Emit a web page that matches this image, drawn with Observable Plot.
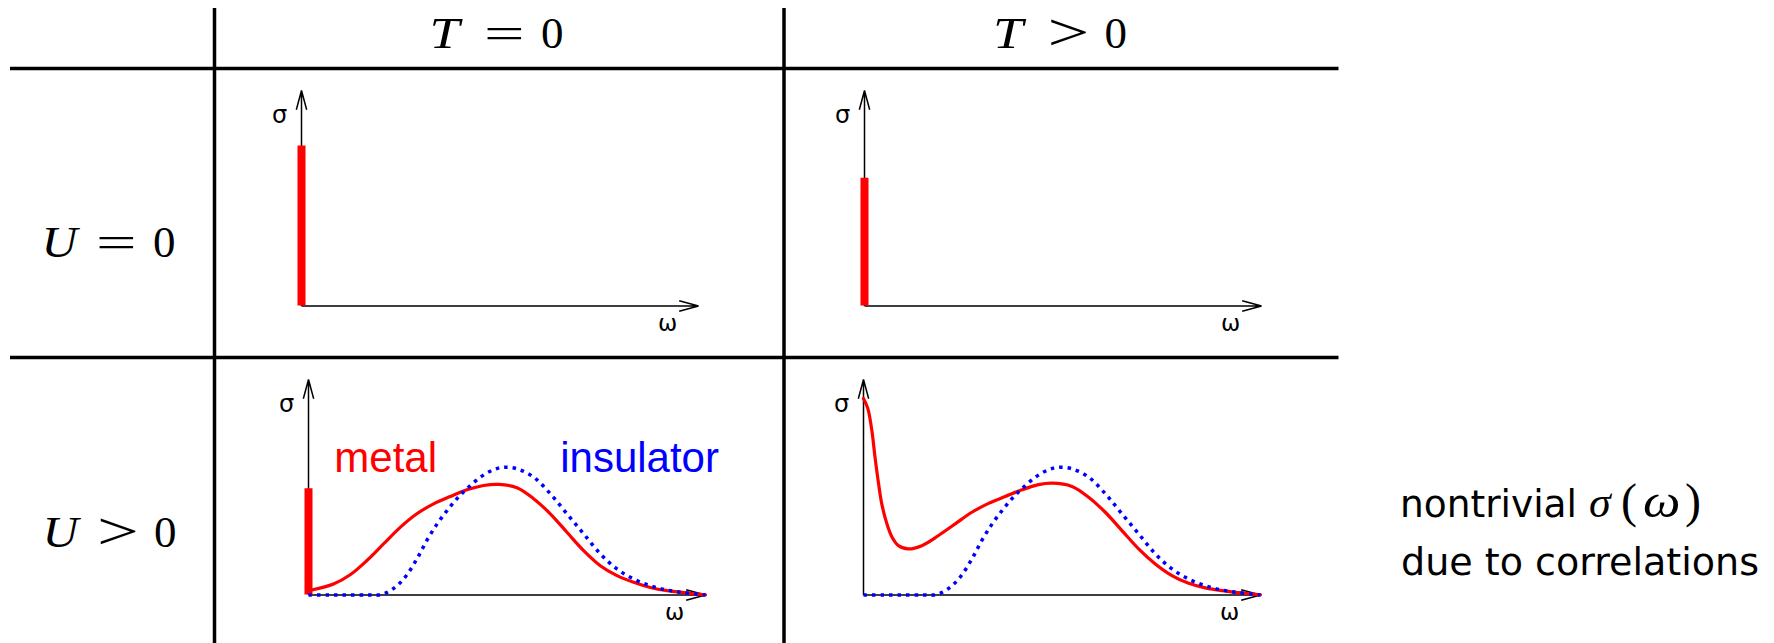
<!DOCTYPE html>
<html>
<head>
<meta charset="utf-8">
<script src="https://cdn.jsdelivr.net/npm/d3@7"></script>
<script src="https://cdn.jsdelivr.net/npm/@observablehq/plot@0.6"></script>
<style>
  html, body { margin: 0; padding: 0; background: #fff; }
  #fig { position: relative; width: 1774px; height: 643px; overflow: hidden; background: #fff; }
  .panel { position: absolute; }
  .panel svg { display: block; }
</style>
</head>
<body>
<div id="fig"></div>
<script>
// ---------------- data ----------------
const columnLabels = ["T = 0", "T > 0"];
const rowLabels = ["U = 0", "U > 0"];
const metalLabel = "metal";
const insulatorLabel = "insulator";
const noteLines = ["nontrivial", "due to correlations"];
const axisLabels = ["σ", "ω"];

// Drude delta-peak heights (σ units, axis height = 10)
const deltaU0T0 = 7.42;
const deltaU0T = 5.93;
const deltaUT0 = 4.93;

// insulator (dotted blue), same in both U>0 panels
const insulatorOmega = [0, 0.5, 1.0, 1.5, 1.76, 1.98, 2.23, 2.48, 2.73, 2.98, 3.24, 3.49, 3.74, 3.99, 4.33, 4.66, 4.92, 5.25, 5.67, 6.09, 6.51, 6.93, 7.35, 7.77, 8.19, 8.61, 9.03, 9.45, 10];
const insulatorSigma = [0, 0, 0, 0, 0, 0.12, 0.43, 0.94, 1.67, 2.53, 3.30, 3.92, 4.47, 4.93, 5.47, 5.81, 5.93, 5.86, 5.47, 4.70, 3.77, 2.84, 1.91, 1.21, 0.74, 0.43, 0.23, 0.11, 0];

// metal, T = 0 (solid red, incoherent part)
const metalT0Omega = [0.08, 0.63, 1.05, 1.47, 1.89, 2.31, 2.73, 3.15, 3.57, 3.99, 4.41, 4.79, 5.25, 5.67, 6.09, 6.51, 6.93, 7.35, 7.77, 8.19, 8.61, 9.03, 9.45, 10];
const metalT0Sigma = [0.23, 0.51, 0.94, 1.60, 2.37, 3.14, 3.77, 4.23, 4.57, 4.88, 5.08, 5.13, 4.98, 4.47, 3.77, 2.91, 2.06, 1.36, 0.90, 0.59, 0.35, 0.20, 0.11, 0.01];

// metal, T > 0 (solid red, broadened Drude peak)
const metalTOmega = [0, 0.11, 0.21, 0.29, 0.38, 0.46, 0.59, 0.72, 0.88, 1.13, 1.47, 1.89, 2.31, 2.73, 3.15, 3.57, 3.99, 4.41, 4.75, 5.25, 5.67, 6.09, 6.51, 6.93, 7.35, 7.77, 8.19, 8.61, 9.03, 9.45, 10];
const metalTSigma = [9.12, 8.65, 7.64, 6.40, 5.16, 4.23, 3.30, 2.68, 2.29, 2.14, 2.29, 2.76, 3.30, 3.84, 4.25, 4.57, 4.88, 5.12, 5.19, 5.04, 4.54, 3.84, 2.99, 2.14, 1.44, 0.90, 0.54, 0.33, 0.20, 0.11, 0.01];

// ---------------- helpers ----------------
const toPoints = (xs, ys) => xs.map((x, i) => ({x, y: ys[i]}));
const fig = document.getElementById("fig");
const RED = "#ff0000", BLUE = "#0000ff";

function panel({left, top, bar, metal, insulator, labels}) {
  const marks = [
    Plot.arrow([{x1: 0, y1: 0, x2: 10, y2: 0}], {x1: "x1", y1: "y1", x2: "x2", y2: "y2", stroke: "black", strokeWidth: 1.5, headLength: 20, headAngle: 30, strokeLinecap: "butt"}),
    Plot.arrow([{x1: 0, y1: 0, x2: 0, y2: 10}], {x1: "x1", y1: "y1", x2: "x2", y2: "y2", stroke: "black", strokeWidth: 1.5, headLength: 20, headAngle: 30, strokeLinecap: "butt"}),
    Plot.text([{x: 0, y: 10, t: axisLabels[0]}], {x: "x", y: "y", text: "t", dx: -22, dy: 25, fontSize: 24, fontFamily: "DejaVu Sans", fill: "black"}),
    Plot.text([{x: 10, y: 0, t: axisLabels[1]}], {x: "x", y: "y", text: "t", dx: -31, dy: 18, fontSize: 23, fontFamily: "DejaVu Sans", fill: "black"})
  ];
  if (bar != null) {
    marks.push(Plot.ruleX([{x: 0, y1: 0, y2: bar}], {x: "x", y1: "y1", y2: "y2", stroke: RED, strokeWidth: 8}));
  }
  if (metal) {
    marks.push(Plot.line(metal, {x: "x", y: "y", curve: "catmull-rom", stroke: RED, strokeWidth: 3.2}));
  }
  if (insulator) {
    marks.push(Plot.line(insulator, {x: "x", y: "y", curve: "catmull-rom", stroke: BLUE, strokeWidth: 3.5, strokeDasharray: "3.5,5", strokeLinecap: "butt"}));
  }
  if (labels) {
    marks.push(Plot.text([{x: 0.65, y: 5.70, t: metalLabel}], {x: "x", y: "y", text: "t", textAnchor: "start", lineAnchor: "bottom", fontSize: 42, fontFamily: "Liberation Sans", fill: RED}));
    marks.push(Plot.text([{x: 6.34, y: 5.70, t: insulatorLabel}], {x: "x", y: "y", text: "t", textAnchor: "start", lineAnchor: "bottom", fontSize: 42, fontFamily: "Liberation Sans", fill: BLUE}));
  }
  const svg = Plot.plot({
    width: 467,
    height: 261,
    marginLeft: 40,
    marginRight: 30,
    marginTop: 10,
    marginBottom: 35.5,
    x: {domain: [0, 10], axis: null},
    y: {domain: [0, 10], axis: null},
    style: {background: "transparent", overflow: "visible"},
    marks
  });
  const div = document.createElement("div");
  div.className = "panel";
  div.style.left = left + "px";
  div.style.top = top + "px";
  div.appendChild(svg);
  fig.appendChild(div);
}

// ---------------- table grid & labels ----------------
const overlay = d3.create("svg")
  .attr("width", 1774).attr("height", 643)
  .style("position", "absolute").style("left", "0px").style("top", "0px");

const gridLines = [
  {x1: 214.5, y1: 8, x2: 214.5, y2: 643},
  {x1: 784, y1: 8, x2: 784, y2: 643},
  {x1: 10, y1: 68.5, x2: 1338.5, y2: 68.5},
  {x1: 10, y1: 357.5, x2: 1338.5, y2: 357.5}
];
overlay.selectAll("line").data(gridLines).join("line")
  .attr("x1", d => d.x1).attr("y1", d => d.y1).attr("x2", d => d.x2).attr("y2", d => d.y2)
  .attr("stroke", "black").attr("stroke-width", 3.5);

function mathLabel(label, x, y) {
  const [v, op, num] = label.split(" ");
  const g = overlay.append("g").attr("font-family", "Liberation Serif").attr("font-size", 45).attr("fill", "black");
  const vs = v === "T" ? 1.2 : 1.1;
  g.append("text").attr("transform", `translate(${x - 3.5},${y}) scale(${vs},1)`).attr("font-style", "italic").text(v);
  const isGt = op === ">";
  g.append("text").attr("transform", `translate(${x + 51},${y + (isGt ? 2 : 0)}) scale(${isGt ? 1.65 : 1.6},${isGt ? 1.15 : 1})`).text(op);
  g.append("text").attr("x", x + 108).attr("y", y).text(num);
}
mathLabel(columnLabels[0], 433, 48);
mathLabel(columnLabels[1], 996.5, 48);
mathLabel(rowLabels[0], 45, 257);
mathLabel(rowLabels[1], 46, 547);

const note = overlay.append("g").attr("fill", "black");
note.append("text").attr("x", 1400).attr("y", 517).attr("font-family", "DejaVu Sans").attr("font-size", 37)
  .attr("textLength", 177).attr("lengthAdjust", "spacingAndGlyphs").text(noteLines[0]);
note.append("text").attr("x", 1401).attr("y", 575).attr("font-family", "DejaVu Sans").attr("font-size", 37)
  .attr("textLength", 358).attr("lengthAdjust", "spacingAndGlyphs").text(noteLines[1]);
note.append("text").attr("x", 1589).attr("y", 517).attr("font-family", "Liberation Serif").attr("font-style", "italic").attr("font-size", 44).text("σ");
note.append("text").attr("x", 1621).attr("y", 517).attr("font-family", "Liberation Serif").attr("font-size", 48).text("(");
note.append("text").attr("transform", "translate(1643,517) scale(1.15,1)").attr("font-family", "Liberation Serif").attr("font-style", "italic").attr("font-size", 46).text("ω");
note.append("text").attr("x", 1685).attr("y", 517).attr("font-family", "Liberation Serif").attr("font-size", 48).text(")");

fig.appendChild(overlay.node());

// ---------------- panels ----------------
panel({left: 261, top: 80, bar: deltaU0T0});
panel({left: 823.5, top: 80, bar: deltaU0T});
panel({left: 268.3, top: 369, bar: deltaUT0, metal: toPoints(metalT0Omega, metalT0Sigma), insulator: toPoints(insulatorOmega, insulatorSigma), labels: true});
panel({left: 823.3, top: 369, metal: toPoints(metalTOmega, metalTSigma), insulator: toPoints(insulatorOmega, insulatorSigma)});
</script>
</body>
</html>
